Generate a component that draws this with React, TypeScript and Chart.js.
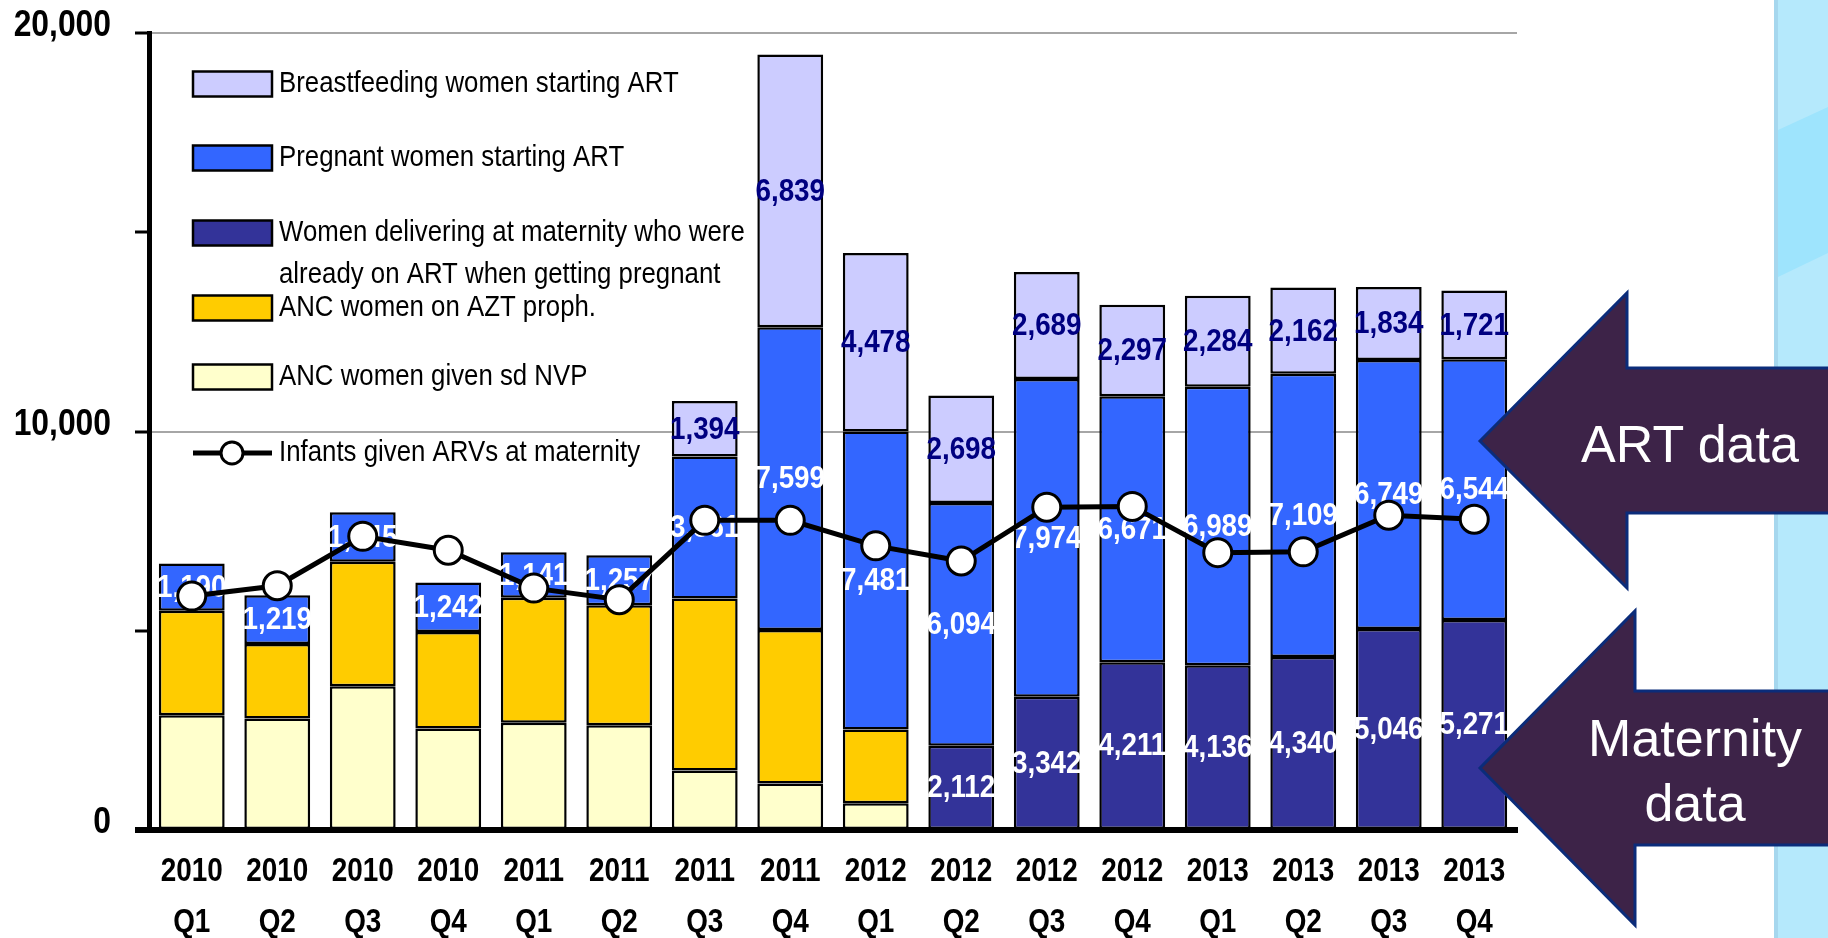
import React, { useEffect, useRef } from 'react';
import { Chart, registerables } from 'chart.js';

Chart.register(...registerables);

// ---------- data ----------
const categories: string[][] = [
  ['2010', 'Q1'], ['2010', 'Q2'], ['2010', 'Q3'], ['2010', 'Q4'],
  ['2011', 'Q1'], ['2011', 'Q2'], ['2011', 'Q3'], ['2011', 'Q4'],
  ['2012', 'Q1'], ['2012', 'Q2'], ['2012', 'Q3'], ['2012', 'Q4'],
  ['2013', 'Q1'], ['2013', 'Q2'], ['2013', 'Q3'], ['2013', 'Q4'],
];

const nvpValues = [2880, 2800, 3610, 2550, 2690, 2630, 1490, 1170, 670, null, null, null, null, null, null, null];
const aztValues = [2620, 1870, 3120, 2420, 3140, 3010, 4320, 3850, 1850, null, null, null, null, null, null, null];
const alreadyOnArtValues = [null, null, null, null, null, null, null, null, null, 2112, 3342, 4211, 4136, 4340, 5046, 5271];
const pregnantArtValues = [1190, 1219, 1245, 1242, 1141, 1257, 3561, 7599, 7481, 6094, 7974, 6671, 6989, 7109, 6749, 6544];
const breastfeedingArtValues = [null, null, null, null, null, null, 1394, 6839, 4478, 2698, 2689, 2297, 2284, 2162, 1834, 1721];
const infantsArvValues = [5870, 6130, 7370, 7020, 6070, 5780, 7770, 7770, 7130, 6750, 8100, 8120, 6960, 6980, 7900, 7800];

const yTickValues = [0, 5000, 10000, 15000, 20000];
const yLabelledTicks = [0, 10000, 20000];

const seriesLabels = {
  nvp: 'ANC women given sd NVP',
  azt: 'ANC women on AZT proph.',
  onArt: 'Women delivering at maternity who were\nalready on ART when getting pregnant',
  pregnant: 'Pregnant women starting ART',
  breastfeeding: 'Breastfeeding women starting ART',
  infants: 'Infants given ARVs at maternity',
};

// ---------- styles ----------
const SANS = '"Liberation Sans", Arial, sans-serif';
const NARROW_X = 0.82; // Arial Narrow ≈ Arial condensed horizontally

const fmt = (v: number) => v.toLocaleString('en-US');

function narrowText(ctx: CanvasRenderingContext2D, text: string, x: number, y: number, align: CanvasTextAlign, font: string, color: string, sx = NARROW_X) {
  ctx.save();
  ctx.translate(x, y);
  ctx.scale(sx, 1);
  ctx.font = font;
  ctx.fillStyle = color;
  ctx.textAlign = align;
  ctx.textBaseline = 'middle';
  ctx.fillText(text, 0, 0);
  ctx.restore();
}

const valueLabelsPlugin = {
  id: 'valueLabels',
  afterDatasetDraw(chart: any, args: any) {
    const ds = chart.data.datasets[args.index];
    if (!ds.valueLabelColor) return;
    const ctx = chart.ctx;
    args.meta.data.forEach((el: any, i: number) => {
      const v = ds.data[i];
      if (v == null) return;
      const p = el.getProps(['x', 'y', 'base'], true);
      narrowText(ctx, fmt(v), p.x, (p.y + p.base) / 2 + 1, 'center', `bold 32px ${SANS}`, ds.valueLabelColor, 0.87);
    });
  },
};

const axisLabelsPlugin = {
  id: 'axisLabels',
  afterDraw(chart: any) {
    const ctx = chart.ctx;
    const xs = chart.scales.x;
    const ys = chart.scales.y;
    const area = chart.chartArea;
    xs.ticks.forEach((_t: any, i: number) => {
      const x = xs.getPixelForTick(i);
      const lab = chart.data.labels[i];
      narrowText(ctx, lab[0], x, area.bottom + 42, 'center', `bold 34px ${SANS}`, '#000');
      narrowText(ctx, lab[1], x, area.bottom + 93, 'center', `bold 34px ${SANS}`, '#000');
    });
    yLabelledTicks.forEach((v) => {
      const y = ys.getPixelForValue(v) - 7;
      narrowText(ctx, fmt(v), area.left - 38, y, 'right', `bold 37px ${SANS}`, '#000', 0.86);
    });
  },
};

const legendPlugin = {
  id: 'customLegend',
  afterDraw(chart: any) {
    const ctx = chart.ctx;
    const datasets = chart.data.datasets;
    const order = [4, 3, 2, 1, 0, 5];
    const ys = [84, 158, 233, 308, 377, 453];
    const boxX = 193;
    const boxW = 79;
    const boxH = 25;
    const textX = 279;
    ctx.save();
    order.forEach((di, k) => {
      const ds = datasets[di];
      const y = ys[k];
      if (ds.type === 'line') {
        ctx.strokeStyle = '#000';
        ctx.lineWidth = 5;
        ctx.beginPath();
        ctx.moveTo(boxX, y);
        ctx.lineTo(boxX + boxW, y);
        ctx.stroke();
        ctx.beginPath();
        ctx.arc(boxX + 39, y, 11, 0, Math.PI * 2);
        ctx.fillStyle = '#fff';
        ctx.fill();
        ctx.lineWidth = 3;
        ctx.stroke();
      } else {
        ctx.fillStyle = ds.backgroundColor;
        ctx.fillRect(boxX, y - boxH / 2, boxW, boxH);
        ctx.strokeStyle = '#000';
        ctx.lineWidth = 2.5;
        ctx.strokeRect(boxX, y - boxH / 2, boxW, boxH);
      }
      const lines = String(ds.label).split('\n');
      lines.forEach((ln, j) => narrowText(ctx, ln, textX, y + j * 42, 'left', `29px ${SANS}`, '#000', 0.89));
    });
    ctx.restore();
  },
};

export default function App() {
  const ref = useRef<HTMLCanvasElement>(null);

  useEffect(() => {
    const barCommon = {
      type: 'bar' as const,
      stack: 'bars',
      order: 1,
      borderColor: '#000',
      borderWidth: 2.5,
      borderSkipped: false,
    };
    const chart = new Chart(ref.current as HTMLCanvasElement, {
      type: 'bar',
      data: {
        labels: categories,
        datasets: [
          { ...barCommon, label: seriesLabels.nvp, data: nvpValues, backgroundColor: '#FFFFCC' },
          { ...barCommon, label: seriesLabels.azt, data: aztValues, backgroundColor: '#FFCC00' },
          { ...barCommon, label: seriesLabels.onArt, data: alreadyOnArtValues, backgroundColor: '#333399', valueLabelColor: '#FFFFFF' },
          { ...barCommon, label: seriesLabels.pregnant, data: pregnantArtValues, backgroundColor: '#3366FF', valueLabelColor: '#FFFFFF' },
          { ...barCommon, label: seriesLabels.breastfeeding, data: breastfeedingArtValues, backgroundColor: '#CCCCFF', valueLabelColor: '#000080' },
          {
            type: 'line',
            stack: 'line',
            order: 0,
            label: seriesLabels.infants,
            data: infantsArvValues,
            borderColor: '#000',
            borderWidth: 5,
            pointRadius: 14,
            pointBorderWidth: 3,
            pointBackgroundColor: '#fff',
            pointBorderColor: '#000',
            tension: 0,
          },
        ] as any,
      },
      options: {
        responsive: false,
        animation: false,
        devicePixelRatio: 1,
        layout: { padding: { top: 33, right: 311, left: 0, bottom: 0 } },
        datasets: { bar: { barPercentage: 0.77, categoryPercentage: 1 } },
        plugins: { legend: { display: false }, tooltip: { enabled: false } },
        scales: {
          x: {
            stacked: true,
            afterFit: (s: any) => { s.height = 108; },
            grid: { display: false, drawTicks: false },
            border: { display: true, color: '#000', width: 6 },
            ticks: { display: false, autoSkip: false, maxRotation: 0 },
          },
          y: {
            stacked: true,
            min: 0,
            max: 20000,
            afterFit: (s: any) => { s.width = 149; },
            afterBuildTicks: (s: any) => { s.ticks = yTickValues.map((v) => ({ value: v })); },
            grid: {
              color: (c: any) => (c.tick && c.tick.value > 0 && yLabelledTicks.includes(c.tick.value) ? '#A6A6A6' : 'rgba(0,0,0,0)'),
              lineWidth: 2,
              tickColor: '#000',
              tickWidth: (c: any) => (c.tick && c.tick.value === 0 ? 6 : 3),
              tickLength: 14,
              drawTicks: true,
            },
            border: { display: true, color: '#000', width: 5 },
            ticks: { display: false },
          },
        },
      } as any,
      plugins: [valueLabelsPlugin, axisLabelsPlugin, legendPlugin],
    });
    return () => chart.destroy();
  }, []);

  return (
    <div style={{ position: 'fixed', left: 0, top: 0, width: 1828, height: 938, background: '#fff', overflow: 'hidden' }}>
      <canvas ref={ref} width={1828} height={938} style={{ position: 'absolute', left: 0, top: 0, width: 1828, height: 938 }} />
      <svg width={1828} height={938} style={{ position: 'absolute', left: 0, top: 0, pointerEvents: 'none' }}>
        <rect x={1774} y={0} width={54} height={938} fill="#B5E9FC" />
        <polygon points="1778,130 1828,107 1828,253 1778,277" fill="#9EE4FD" />
        <rect x={1774} y={0} width={4} height={938} fill="#A6D7EE" />
        <polygon
          points="1480,441 1627,293 1627,368 1830,368 1830,513 1627,513 1627,588"
          fill="#3D2348"
          stroke="#0B2C7A"
          strokeWidth={3}
          strokeLinejoin="miter"
        />
        <polygon
          points="1480,768 1635,611 1635,691 1830,691 1830,845 1635,845 1635,925"
          fill="#3D2348"
          stroke="#0B2C7A"
          strokeWidth={3}
          strokeLinejoin="miter"
        />
        <text x={1690} y={462} fill="#fff" fontFamily={SANS} fontSize={52} textAnchor="middle">ART data</text>
        <text x={1695} y={756} fill="#fff" fontFamily={SANS} fontSize={52} textAnchor="middle">Maternity</text>
        <text x={1695} y={821} fill="#fff" fontFamily={SANS} fontSize={52} textAnchor="middle">data</text>
      </svg>
    </div>
  );
}
